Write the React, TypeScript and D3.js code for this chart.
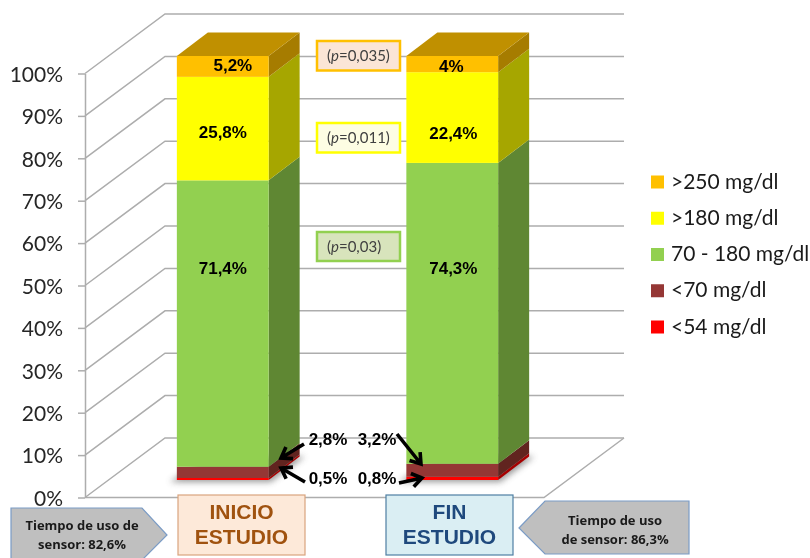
import React, { useEffect, useRef } from 'react';
import * as d3 from 'd3';

const categories = ['INICIO ESTUDIO', 'FIN ESTUDIO'];
const seriesNames = ['<54 mg/dl', '<70 mg/dl', '70 - 180 mg/dl', '>180 mg/dl', '>250 mg/dl'];
const below54 = [0.5, 0.8];
const below70 = [2.8, 3.2];
const inRange = [71.4, 74.3];
const above180 = [25.8, 22.4];
const above250 = [5.2, 4];
const percentTicks = [0, 0.1, 0.2, 0.3, 0.4, 0.5, 0.6, 0.7, 0.8, 0.9, 1];
const frontColors = ['#ff0000', '#953735', '#92d050', '#ffff00', '#ffc000'];
const sideColors = ['#a60000', '#61241f', '#5f8733', '#a6a600', '#a67c00'];
const roofColor = '#c09000';

const SANS = 'Lato, "Open Sans", sans-serif';
const ARIAL = '"Liberation Sans", Arial, sans-serif';

export default function App() {
  const ref = useRef<SVGSVGElement>(null);

  useEffect(() => {
    const svg = d3.select(ref.current);
    svg.selectAll('*').remove();

    const y = d3.scaleLinear().domain([0, 1]).range([497.5, 73.5]);
    const x = d3.scaleBand().domain(categories).range([108, 567]).paddingInner(0.6).paddingOuter(0.3);

    // 3d offsets: the back wall, and the bars standing on the floor
    const wallDx = 80, wallDy = -59.5;
    const barDx = 31, barDy = -23.5;
    const barShift = -17.5;
    const right = 544;

    const rows = categories.map((c, i) => ({
      cat: c,
      [seriesNames[0]]: below54[i],
      [seriesNames[1]]: below70[i],
      [seriesNames[2]]: inRange[i],
      [seriesNames[3]]: above180[i],
      [seriesNames[4]]: above250[i],
    }));
    const stacked = d3.stack<any>().keys(seriesNames).offset(d3.stackOffsetExpand)(rows);

    const defs = svg.append('defs');
    defs.append('filter').attr('id', 'shadow').attr('x', '-30%').attr('y', '-60%').attr('width', '160%').attr('height', '220%')
      .append('feGaussianBlur').attr('stdDeviation', 3);

    // walls and floor
    const grid = svg.append('g').attr('fill', 'none').attr('stroke', '#adadad').attr('stroke-width', 1.5);
    percentTicks.forEach(t => {
      grid.append('path').attr('d', d3.line()([
        [85, y(t)],
        [85 + wallDx, y(t) + wallDy],
        [right + wallDx, y(t) + wallDy],
      ]));
    });
    grid.append('path').attr('d', d3.line()([[right + wallDx, y(0) + wallDy], [right, y(0)], [85, y(0)]]));

    const axis = d3.axisLeft(y).tickValues(percentTicks).tickFormat(d3.format('.0%') as any).tickSize(7).tickSizeOuter(0).tickPadding(15);
    const axisG = svg.append('g').attr('transform', 'translate(85,0)').call(axis as any);
    axisG.selectAll('path,line').attr('stroke', '#adadad').attr('stroke-width', 1.5);
    axisG.selectAll('text').attr('font-family', SANS).attr('font-size', 21).attr('fill', '#262626').attr('dy', '0.37em');

    const barY = (v: number) => y(v) + barShift;
    const poly = (pts: [number, number][]) => pts.map(p => p.join(',')).join(' ');

    // soft shadow under each bar
    categories.forEach(c => {
      const x0 = x(c)!, x1 = x0 + x.bandwidth();
      svg.append('polygon')
        .attr('points', poly([[x0 - 7, barY(0) + 2], [x1 + 2, barY(0) + 2], [x1 + barDx + 5, barY(0) + barDy], [x0 + barDx, barY(0) + barDy]]))
        .attr('fill', '#555').attr('opacity', 0.6).attr('filter', 'url(#shadow)');
    });

    // bars
    stacked.forEach((layer, s) => {
      layer.forEach((d, i) => {
        const x0 = x(categories[i])!, x1 = x0 + x.bandwidth();
        const y0 = barY(d[0]), y1 = barY(d[1]);
        svg.append('polygon')
          .attr('points', poly([[x1, y0], [x1 + barDx, y0 + barDy], [x1 + barDx, y1 + barDy], [x1, y1]]))
          .attr('fill', sideColors[s]);
        svg.append('rect')
          .attr('x', x0).attr('y', y1).attr('width', x1 - x0).attr('height', y0 - y1)
          .attr('fill', frontColors[s]);
        if (s === seriesNames.length - 1) {
          svg.append('polygon')
            .attr('points', poly([[x0, y1], [x0 + barDx, y1 + barDy], [x1 + barDx, y1 + barDy], [x1, y1]]))
            .attr('fill', roofColor);
        }
      });
    });

    // percentages inside the bars
    const barLabel = (txt: string, cx: number, by: number) =>
      svg.append('text').attr('x', cx).attr('y', by).attr('text-anchor', 'middle')
        .attr('font-family', ARIAL).attr('font-weight', 700).attr('font-size', 17).attr('fill', '#000').text(txt);
    const pct = (v: number) => String(v).replace('.', ',') + '%';
    const c0 = x(categories[0])!, c1 = x(categories[1])!;
    barLabel(pct(above250[0]), c0 + 56, 71);
    barLabel(pct(above180[0]), c0 + 46, 138);
    barLabel(pct(inRange[0]), c0 + 46, 274);
    barLabel(pct(above250[1]), c1 + 45, 71.5);
    barLabel(pct(above180[1]), c1 + 47, 139);
    barLabel(pct(inRange[1]), c1 + 47, 274);

    // outside labels for the two thin segments
    barLabel(pct(below70[0]), 328, 445);
    barLabel(pct(below54[0]), 328, 484);
    barLabel(pct(below70[1]), 377, 445);
    barLabel(pct(below54[1]), 377, 484);

    // arrows
    const arrow = (from: [number, number], to: [number, number]) => {
      const a = Math.atan2(to[1] - from[1], to[0] - from[0]);
      const len = 12, spread = 0.6;
      const wing = (sgn: number): [number, number] => [to[0] - len * Math.cos(a + sgn * spread), to[1] - len * Math.sin(a + sgn * spread)];
      svg.append('path')
        .attr('d', d3.line()([from, to]) + d3.line()([wing(1), to, wing(-1)])!)
        .attr('fill', 'none').attr('stroke', '#000').attr('stroke-width', 3.6).attr('stroke-linejoin', 'miter');
    };
    arrow([304, 444], [281, 458]);
    arrow([305, 482], [281, 468]);
    arrow([397, 434], [421, 464]);
    arrow([399, 483], [422, 478]);

    // p value boxes
    const pBox = (label: string, top: number, h: number, stroke: string, fill: string) => {
      svg.append('rect').attr('x', 317).attr('y', top).attr('width', 83).attr('height', h)
        .attr('fill', fill).attr('stroke', stroke).attr('stroke-width', 2.5);
      const t = svg.append('text').attr('x', 327).attr('y', top + h / 2 + 5.5)
        .attr('font-family', SANS).attr('font-size', 15).attr('fill', '#404040');
      t.append('tspan').text('(');
      t.append('tspan').attr('font-style', 'italic').text('p');
      t.append('tspan').text(label + ')');
    };
    pBox('=0,035', 41, 29.5, '#ffc000', '#fbe5d6');
    pBox('=0,011', 123, 29.5, '#ffff00', '#fdfde3');
    pBox('=0,03', 232, 29, '#92d050', '#d8e4bc');

    // category boxes
    const catBox = (x0: number, lines: string[], stroke: string, fill: string, color: string) => {
      svg.append('rect').attr('x', x0).attr('y', 495).attr('width', 127).attr('height', 60)
        .attr('fill', fill).attr('stroke', stroke).attr('stroke-width', 1.2);
      lines.forEach((l, i) => {
        svg.append('text').attr('x', x0 + 63.5).attr('y', 519 + i * 25).attr('text-anchor', 'middle')
          .attr('font-family', ARIAL).attr('font-weight', 700).attr('font-size', 21).attr('fill', color).text(l);
      });
    };
    catBox(178, categories[0].split(' '), '#d9a47e', '#fde9d9', '#a0520f');
    catBox(386, categories[1].split(' '), '#4f7fa3', '#daeef3', '#1f497d');

    // sensor use callouts
    const callout = (pts: [number, number][], cx: number, lines: [string, number][]) => {
      svg.append('polygon').attr('points', poly(pts)).attr('fill', '#bfbfbf').attr('stroke', '#7b9cc6').attr('stroke-width', 1.2);
      lines.forEach(([l, by]) => {
        svg.append('text').attr('x', cx).attr('y', by).attr('text-anchor', 'middle')
          .attr('font-family', '"Open Sans", sans-serif').attr('font-weight', 700).attr('font-size', 13).attr('fill', '#1a1a1a').text(l);
      });
    };
    callout([[11, 508], [142, 508], [167, 535], [142, 560], [11, 560]], 82, [['Tiempo de uso de', 530], ['sensor: 82,6%', 549]]);
    callout([[519, 528], [545, 501], [689, 501], [689, 554], [545, 554]], 615, [['Tiempo de uso', 525], ['de sensor: 86,3%', 544]]);

    // legend
    const legendY = d3.scalePoint().domain([...seriesNames].reverse()).range([182, 327]);
    seriesNames.forEach((name, s) => {
      const ly = legendY(name)!;
      svg.append('rect').attr('x', 651).attr('y', ly - 6.5).attr('width', 13).attr('height', 13).attr('fill', frontColors[s]);
      svg.append('text').attr('x', 671).attr('y', ly + 6.5)
        .attr('font-family', SANS).attr('font-size', 21).attr('fill', '#1a1a1a').text(name);
    });
  }, []);

  return <svg ref={ref} width={810} height={558} style={{ position: 'absolute', left: 0, top: 0, background: '#fff', filter: 'blur(0.4px)' }} />;
}
